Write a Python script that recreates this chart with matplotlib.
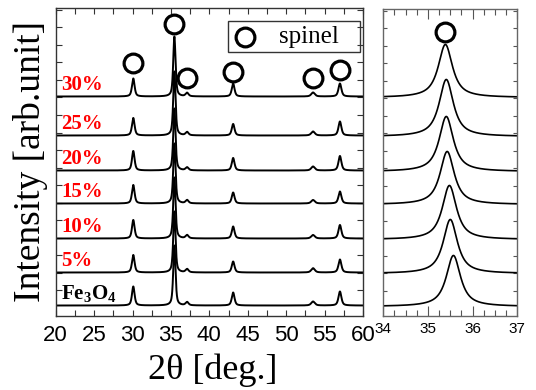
import numpy as np
import matplotlib
matplotlib.use("Agg")
import matplotlib.pyplot as plt
from matplotlib.ticker import MultipleLocator, FixedLocator, NullFormatter
from matplotlib.patches import Rectangle

SERIF = "Liberation Serif"
SANS = "Liberation Sans"

plt.rcParams["mathtext.fontset"] = "custom"
plt.rcParams["mathtext.rm"] = "Liberation Serif:bold"
plt.rcParams["mathtext.bf"] = "Liberation Serif:bold"

# Samples, bottom to top, with their vertical stacking offsets
samples = ["Fe$_{\\mathrm{3}}$O$_{\\mathrm{4}}$", "5%", "10%", "15%", "20%", "25%", "30%"]
sample_colors = ["black", "red", "red", "red", "red", "red", "red"]
offsets = [10, 43, 77, 112, 145, 180, 219]

# Wide scan (20-60 deg): spinel reflections
peak_pos = [30.1, 35.45, 37.1, 43.1, 53.5, 57.0]
peak_fwhm = [0.40, 0.35, 0.45, 0.42, 0.55, 0.45]
peak_height = [
    [19.0, 60.0, 3.3, 13.0, 4.0, 14.0],   # Fe3O4
    [17.5, 61.0, 3.3, 11.0, 4.3, 13.0],   # 5%
    [18.5, 61.0, 3.3, 12.0, 3.5, 13.5],   # 10%
    [18.5, 60.0, 3.3, 11.0, 3.5, 12.0],   # 15%
    [19.5, 62.0, 3.0, 12.5, 4.0, 14.5],   # 20%
    [17.5, 64.0, 3.3, 11.5, 4.0, 14.0],   # 25%
    [18.0, 60.0, 3.5, 13.0, 4.0, 13.0],   # 30%
]

# Narrow scan (34-37 deg): (311) reflection
zoom_pos = [35.57, 35.50, 35.48, 35.43, 35.41, 35.41, 35.39]
zoom_height = [51, 54, 54, 53, 55, 57, 53]
zoom_fwhm = [0.38, 0.38, 0.38, 0.38, 0.38, 0.38, 0.38]

# Spinel markers on the wide scan (2theta, height)
marker_x = [30.1, 35.4, 37.1, 43.1, 53.5, 57.0]
marker_y = [252, 291, 237, 243, 237, 245]
zoom_marker = (35.38, 284)


def pseudo_voigt(x, center, height, fwhm, eta=0.6):
    g = np.exp(-4 * np.log(2) * ((x - center) / fwhm) ** 2)
    l = 1.0 / (1.0 + 4 * ((x - center) / fwhm) ** 2)
    return height * (eta * l + (1 - eta) * g)


fig = plt.figure(figsize=(5.36, 3.90), dpi=100)
ax = fig.add_axes([0.1039, 0.191, 0.5733, 0.7885])
ax2 = fig.add_axes([0.7151, 0.1885, 0.25, 0.7885])

x = np.linspace(20, 60, 4001)
for i, (off, hts) in enumerate(zip(offsets, peak_height)):
    y = np.full_like(x, float(off))
    for p, h, w in zip(peak_pos, hts, peak_fwhm):
        y += pseudo_voigt(x, p, h, w)
    ax.plot(x, y, color="black", lw=1.4)
    ax.text(20.7, off + 11.5, samples[i], color=sample_colors[i],
            fontsize=15, fontweight="bold", family=SERIF, va="center", ha="left")

ax.plot(marker_x, marker_y, "o", ms=13.5, mfc="none", mec="black", mew=2.3, ls="none")

ax.set_xlim(20, 60)
ax.set_ylim(0, 307.5)
ax.xaxis.set_major_locator(MultipleLocator(5))
ax.xaxis.set_minor_locator(MultipleLocator(2.5))
ax.yaxis.set_major_locator(FixedLocator(np.arange(25.5, 307, 17.5)))
ax.yaxis.set_major_formatter(NullFormatter())
ax.tick_params(which="both", direction="in", top=True, right=True,
               length=4, width=0.8, color="#333333")
ax.tick_params(axis="x", labelsize=16, pad=7)
for lab in ax.get_xticklabels():
    lab.set_family(SANS)
for s in ax.spines.values():
    s.set_color("#333333")
    s.set_linewidth(1.0)

ax.set_xlabel("2\u03b8 [deg.]", fontsize=26, family=SERIF)
ax.xaxis.set_label_coords(0.51, -0.123)
ax.set_ylabel("Intensity [arb.unit]", fontsize=27, family=SERIF)
ax.yaxis.set_label_coords(-0.025, 0.50)

# Legend box with the spinel symbol
ax.add_patch(Rectangle((0.5597, 0.856), 0.4303, 0.1027, transform=ax.transAxes,
                       fill=False, edgecolor="#333333", lw=1.0, zorder=5))
ax.plot([0.616], [0.9067], "o", ms=13.5, mfc="none", mec="black", mew=2.3,
        transform=ax.transAxes, zorder=6)
ax.text(0.728, 0.9067, "spinel", transform=ax.transAxes, fontsize=18,
        family=SERIF, va="center", ha="left", zorder=6)

# Narrow scan panel
xz = np.linspace(34, 37, 1201)
for off, p, h, w in zip(offsets, zoom_pos, zoom_height, zoom_fwhm):
    ax2.plot(xz, off + pseudo_voigt(xz, p, h, w, eta=0.9), color="black", lw=1.2)
ax2.plot([zoom_marker[0]], [zoom_marker[1]], "o", ms=13.5, mfc="none",
         mec="black", mew=2.3)

ax2.set_xlim(34, 37)
ax2.set_ylim(0, 307.5)
ax2.xaxis.set_major_locator(MultipleLocator(1))
ax2.xaxis.set_minor_locator(MultipleLocator(0.25))
ax2.yaxis.set_major_locator(FixedLocator(np.arange(25.5, 307, 17.5)))
ax2.yaxis.set_major_formatter(NullFormatter())
ax2.tick_params(which="major", direction="in", top=True, right=True,
                length=7, width=0.8, color="#555555")
ax2.tick_params(which="minor", direction="in", top=True, right=True,
                length=4, width=0.8, color="#555555")
ax2.tick_params(axis="y", which="major", length=3)
ax2.tick_params(axis="x", labelsize=11, pad=4)
for lab in ax2.get_xticklabels():
    lab.set_family(SANS)
for s in ax2.spines.values():
    s.set_color("#666666")
    s.set_linewidth(1.0)

fig.savefig("out.png", dpi=100)
